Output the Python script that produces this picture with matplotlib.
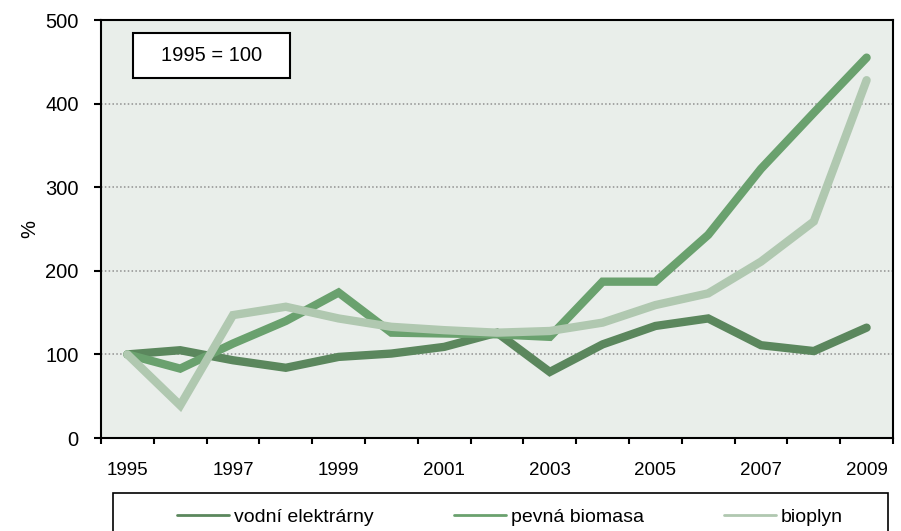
import matplotlib
matplotlib.use("Agg")
import matplotlib.pyplot as plt
from matplotlib.patches import Rectangle
import numpy as np

plt.rcParams['font.family'] = ['Liberation Sans', 'DejaVu Sans']

# data (1995 = 100)
years = list(range(1995, 2010))
vodni = [100, 105, 93, 84, 97, 101, 109, 126, 79, 112, 134, 143, 111, 104, 132]
biomasa = [100, 83, 113, 140, 174, 126, 125, 124, 121, 187, 187, 243, 322, 389, 455]
bioplyn = [100, 39, 147, 157, 143, 133, 129, 126, 128, 138, 159, 173, 211, 259, 428]

series_names = ['vodní elektrárny', 'pevná biomasa', 'bioplyn']
colors = ['#5b875d', '#6aa16e', '#b0c8b0']
fs = 14

fig = plt.figure(figsize=(9.01, 5.31), dpi=100)
ax = fig.add_axes([101 / 901, 1 - 438 / 531, 792 / 901, 418 / 531])
ax.set_facecolor('#e9eeea')

x = np.arange(len(years))
for vals, name, c in zip([vodni, biomasa, bioplyn], series_names, colors):
    ax.plot(x, vals, color=c, lw=6, label=name, solid_capstyle='round',
            solid_joinstyle='miter', zorder=3)

ax.set_xlim(-0.5, len(years) - 0.5)
ax.set_ylim(0, 500)

# y axis
ax.set_yticks([0, 100, 200, 300, 400, 500])
ax.tick_params(axis='y', direction='out', length=5, width=1.5, pad=11, labelsize=fs + 0.5)
for yv in [100, 200, 300, 400]:
    ax.axhline(yv, color='#8f8f8f', lw=1.1, dashes=(1, 1.5), zorder=1)

# x axis: ticks on category borders, labels every second year at the centres
ax.set_xticks(np.arange(-0.5, len(years), 1.0))
ax.set_xticklabels([])
ax.tick_params(axis='x', which='major', direction='out', length=4, width=1.5)
ax.set_xticks(x[::2], minor=True)
ax.set_xticklabels([str(y) for y in years[::2]], minor=True)
ax.tick_params(axis='x', which='minor', length=0, pad=17, labelsize=fs - 0.5)

for s in ax.spines.values():
    s.set_linewidth(1.5)
    s.set_color('black')

ax.set_ylabel('%', fontsize=fs + 0.5)
ax.yaxis.set_label_coords(-0.078, 0.5)

# "1995 = 100" box
ax.add_patch(Rectangle((32 / 792, 360 / 418), 157 / 792, 45 / 418, transform=ax.transAxes,
                       facecolor='white', edgecolor='black', lw=1.5, zorder=5))
ax.text((32 + 78.5) / 792, (360 + 22.5) / 418, '1995 = 100', transform=ax.transAxes,
        ha='center', va='center', fontsize=fs + 0.5, zorder=6)

# legend box runs off the bottom edge like in the original
fig.patches.append(Rectangle((113 / 901, -10 / 531), 775 / 901, 48 / 531,
                             transform=fig.transFigure, facecolor='white',
                             edgecolor='black', lw=1.2))
leg = fig.legend(loc='center', bbox_to_anchor=(510 / 901, 1 - 517 / 531), ncol=3,
                 fontsize=fs, frameon=False,
                 handlelength=2.7, handletextpad=0.25, columnspacing=4.1,
                 borderpad=0, borderaxespad=0)
for h in leg.get_lines():
    h.set_linewidth(2)

fig.savefig('out.png', dpi=100)
